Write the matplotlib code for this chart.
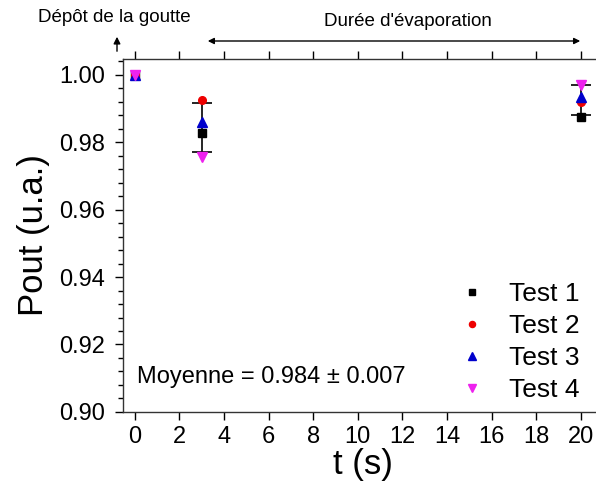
import matplotlib
matplotlib.use("Agg")
import matplotlib.pyplot as plt
from matplotlib.ticker import MultipleLocator, AutoMinorLocator

plt.rcParams['font.family'] = ['Liberation Sans', 'DejaVu Sans']

t = [0, 3, 20]
test1 = [1.000, 0.9828, 0.9875]
test2 = [1.000, 0.9926, 0.9920]
test3 = [1.000, 0.9860, 0.9935]
test4 = [1.000, 0.9757, 0.9970]
err_t = [3, 20]
err_mean = [0.9843, 0.9925]
err_sd = [0.0073, 0.0045]

fig = plt.figure(figsize=(5.96, 4.84), dpi=100)
ax = fig.add_axes([0.206, 0.149, 0.806, 0.729])

ax.errorbar(err_t, err_mean, yerr=err_sd, fmt='none', ecolor='black',
            elinewidth=1.2, capsize=7, capthick=1.2, zorder=2)
ax.plot(t, test1, 's', color='black', ms=5.5, label='Test 1', zorder=3)
ax.plot(t, test2, 'o', color='#ee0000', ms=5.5, label='Test 2', zorder=3)
ax.plot(t, test3, '^', color='#0000cc', ms=7, label='Test 3', zorder=3)
ax.plot(t, test4, 'v', color='#ee22ee', ms=7, label='Test 4', zorder=3)

ax.set_xlim(-0.54, 21.0)
ax.set_ylim(0.90, 1.0047)
ax.xaxis.set_major_locator(MultipleLocator(2))
ax.yaxis.set_major_locator(MultipleLocator(0.02))
ax.yaxis.set_minor_locator(AutoMinorLocator(5))
ax.yaxis.set_major_formatter(matplotlib.ticker.FormatStrFormatter('%.2f'))
ax.tick_params(axis='both', which='major', direction='out', length=6,
               width=1, labelsize=17, top=True, right=False)
ax.tick_params(axis='y', which='major', pad=7)
ax.tick_params(axis='x', which='major', pad=4)
ax.tick_params(axis='y', which='minor', direction='out', length=3.5, width=1)
for s in ax.spines.values():
    s.set_linewidth(1)
    s.set_color('#333333')

ax.set_xlabel('t (s)', fontsize=25, labelpad=0)
ax.set_ylabel('Pout (u.a.)', fontsize=25, labelpad=6)

leg = ax.legend(loc='lower right', fontsize=19, frameon=False,
                handletextpad=0.9, labelspacing=0.3, handlelength=1.0,
                markerscale=0.8, bbox_to_anchor=(1.0, -0.04))

ax.text(0.03, 0.1, 'Moyenne = 0.984 \u00b1 0.007', transform=ax.transAxes,
        fontsize=17, va='center', ha='left')

fig.text(38 / 596, 1 - 18 / 484, 'Dépôt de la goutte', fontsize=13.5,
         ha='left', va='center')
fig.text(408 / 596, 1 - 21 / 484, "Durée d'évaporation", fontsize=13.5,
         ha='center', va='center')
fig.add_artist(matplotlib.patches.FancyArrowPatch(
    (117 / 596, 1 - 54 / 484), (117 / 596, 1 - 34 / 484),
    transform=fig.transFigure, arrowstyle='-|>', mutation_scale=10,
    color='black', lw=1))
fig.add_artist(matplotlib.patches.FancyArrowPatch(
    (205 / 596, 1 - 41 / 484), (583 / 596, 1 - 41 / 484),
    transform=fig.transFigure, arrowstyle='<|-|>', mutation_scale=9,
    color='black', lw=1))

fig.savefig('out.png', dpi=100)
